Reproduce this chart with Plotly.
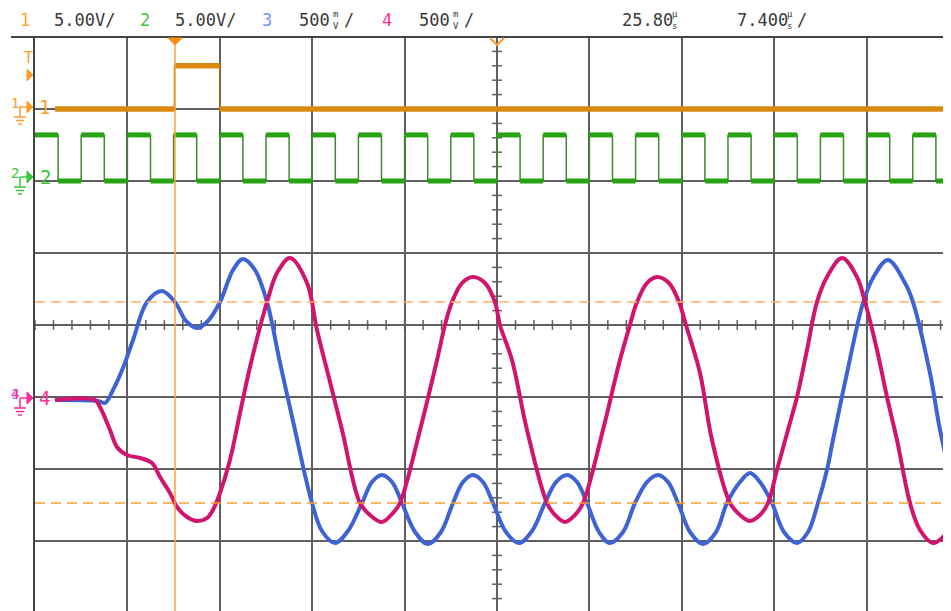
import plotly.graph_objects as go

# graticule in divisions (centre = 0); right edge and bottom sliver are off-screen
X_RANGE = [-5.0, 4.827]
Y_RANGE = [-3.972, 4.0]

# CH1 trigger pulse (orange), divisions
ch1_t = [-4.784, -3.49, -3.0]
ch1_v = [3.0, 3.6, 3.0]

# CH2 clock (green): edge times, alternating high/low starting high
ch2_t = [-5.0, -4.75, -4.5, -4.25, -4.0, -3.75, -3.5, -3.25, -3.0, -2.75,
         -2.5, -2.25, -2.0, -1.75, -1.5, -1.25, -1.0, -0.75, -0.5, -0.25,
         0.0, 0.25, 0.5, 0.75, 1.0, 1.25, 1.5, 1.75, 2.0, 2.25,
         2.5, 2.75, 3.0, 3.25, 3.5, 3.75, 4.0, 4.25, 4.5, 4.75]
ch2_high = 2.64
ch2_low = 2.0
t_end = 4.95

# CH3 (blue)
ch3_t = [-4.784, -4.318, -4.242, -4.156, -4.048, -3.939, -3.788, -3.626, -3.485, -3.366,
         -3.247, -3.128, -2.998, -2.857, -2.749, -2.619, -2.489, -2.348, -2.186, -2.078,
         -2.002, -1.894, -1.753, -1.613, -1.461, -1.353, -1.245, -1.136, -1.028, -0.887,
         -0.747, -0.606, -0.476, -0.368, -0.260, -0.152, -0.043, 0.097, 0.238, 0.379,
         0.519, 0.639, 0.758, 0.866, 0.974, 1.104, 1.223, 1.364, 1.494, 1.623,
         1.742, 1.851, 1.959, 2.089, 2.229, 2.370, 2.489, 2.630, 2.738, 2.846,
         2.976, 3.106, 3.247, 3.366, 3.474, 3.571, 3.636, 3.788, 3.961, 4.069,
         4.232, 4.416, 4.502, 4.686, 4.795, 4.913]
ch3_v = [-1.042, -1.056, -1.083, -0.903, -0.597, -0.208, 0.319, 0.472, 0.319, 0.056,
         -0.042, 0.056, 0.319, 0.764, 0.917, 0.764, 0.319, -0.528, -1.458, -2.083,
         -2.472, -2.861, -3.028, -2.861, -2.472, -2.181, -2.083, -2.181, -2.472, -2.875,
         -3.042, -2.875, -2.472, -2.181, -2.083, -2.181, -2.472, -2.875, -3.028, -2.861,
         -2.472, -2.181, -2.083, -2.181, -2.472, -2.875, -3.028, -2.875, -2.472, -2.181,
         -2.083, -2.181, -2.472, -2.875, -3.042, -2.875, -2.472, -2.181, -2.056, -2.181,
         -2.472, -2.875, -3.028, -2.875, -2.472, -2.014, -1.597, -0.667, 0.306, 0.653,
         0.903, 0.583, 0.319, -0.667, -1.458, -2.125]

# CH4 (pink)
ch4_t = [-4.784, -4.351, -4.297, -4.188, -4.113, -4.004, -3.864, -3.734, -3.647, -3.539,
         -3.463, -3.355, -3.247, -3.139, -3.074, -2.998, -2.890, -2.781, -2.673, -2.489,
         -2.381, -2.240, -2.056, -1.948, -1.807, -1.677, -1.483, -1.374, -1.245, -1.126,
         -1.050, -0.833, -0.649, -0.563, -0.487, -0.379, -0.260, -0.130, -0.022, 0.032,
         0.162, 0.325, 0.541, 0.628, 0.736, 0.844, 0.931, 1.147, 1.331, 1.439,
         1.515, 1.623, 1.732, 1.861, 1.970, 2.045, 2.197, 2.327, 2.522, 2.630,
         2.738, 2.846, 2.933, 3.030, 3.149, 3.247, 3.355, 3.463, 3.571, 3.734,
         3.896, 3.983, 4.113, 4.221, 4.329, 4.470, 4.578, 4.719, 4.848, 4.913]
ch4_v = [-1.042, -1.042, -1.139, -1.458, -1.694, -1.806, -1.847, -1.917, -2.111, -2.333,
         -2.528, -2.667, -2.722, -2.681, -2.569, -2.333, -1.875, -1.222, -0.583, 0.319,
         0.722, 0.931, 0.583, -0.069, -0.792, -1.458, -2.472, -2.639, -2.736, -2.611,
         -2.472, -1.458, -0.486, 0.0, 0.319, 0.583, 0.667, 0.583, 0.319, 0.0,
         -0.486, -1.458, -2.472, -2.639, -2.736, -2.639, -2.472, -1.458, -0.486, 0.0,
         0.319, 0.583, 0.667, 0.583, 0.319, 0.0, -0.667, -1.597, -2.472, -2.639,
         -2.722, -2.639, -2.472, -2.014, -1.458, -1.0, -0.347, 0.319, 0.667, 0.931,
         0.667, 0.319, -0.347, -1.0, -1.597, -2.472, -2.847, -3.028, -2.917, -2.778]

# cursors
cursor_t = -3.485
cursor_v = [0.319, -2.472]

# header readout
header = [("1", "#FFA43A"), ("5.00V/", "#3a3a3a"), ("2", "#45C445"), ("5.00V/", "#3a3a3a"),
          ("3", "#7590FF"), ("500", "#3a3a3a"), ("4", "#FF2D96"), ("500", "#3a3a3a"),
          ("25.80", "#3a3a3a"), ("7.400", "#3a3a3a")]
header_x = [18, 52, 138, 173, 260, 297, 380, 417, 620, 735]

# the page body has an 8px margin; coordinates below are window pixels,
# the visible page ends at x=943
PAGE = 8
W, H, L, T = 943, 611, 35, 37
ORANGE = "#FF9C2A"
GREEN = "#3CC43C"
PINK = "#FF2D96"
BLUE = "#7590FF"
GRID = "#5f5f5f"
MONO = "DejaVu Sans Mono, Liberation Mono, monospace"


def px(x):
    return (x - L) / (W - L)


def py(y):
    return (H - y) / (H - T)


def bands(t, v, end):
    xs, ys = [], []
    for a, b, lvl in zip(t, t[1:] + [end], v):
        xs += [a, b, None]
        ys += [lvl, lvl, None]
    return xs, ys


ch2_v = [ch2_high if i % 2 == 0 else ch2_low for i in range(len(ch2_t))]

fig = go.Figure()

# minor ticks on the centre axes
minor_x = [i / 5 for i in range(-25, 25)]
minor_y = [i / 5 for i in range(-20, 20)]
fig.add_trace(go.Scatter(x=minor_x, y=[0] * len(minor_x), mode="markers",
                         marker=dict(symbol="line-ns", size=7, line=dict(width=1.5, color=GRID))))
fig.add_trace(go.Scatter(x=[0] * len(minor_y), y=minor_y, mode="markers",
                         marker=dict(symbol="line-ew", size=7, line=dict(width=1.5, color=GRID))))

# CH1
fig.add_trace(go.Scatter(x=ch1_t + [t_end], y=ch1_v + [ch1_v[-1]], mode="lines",
                         line=dict(shape="hv", width=1.5, color="#9C6A1E")))
bx, by = bands(ch1_t, ch1_v, t_end)
fig.add_trace(go.Scatter(x=bx, y=by, mode="lines", line=dict(width=5.5, color="#DA8A10")))

# CH2
fig.add_trace(go.Scatter(x=ch2_t + [t_end], y=ch2_v + [ch2_v[-1]], mode="lines",
                         line=dict(shape="hv", width=1.5, color="#3D8B2E")))
bx, by = bands(ch2_t, ch2_v, t_end)
fig.add_trace(go.Scatter(x=bx, y=by, mode="lines", line=dict(width=5, color="#26A311")))

# CH3 / CH4
fig.add_trace(go.Scatter(x=ch3_t, y=ch3_v, mode="lines",
                         line=dict(shape="spline", width=4, color="#3F63D5")))
fig.add_trace(go.Scatter(x=ch4_t, y=ch4_v, mode="lines",
                         line=dict(shape="spline", width=4, color="#D1146E")))

shapes = []


def seg(x0, y0, x1, y1, color, width=1.5):
    shapes.append(dict(type="line", xref="paper", yref="paper", x0=px(x0), y0=py(y0),
                       x1=px(x1), y1=py(y1), line=dict(color=color, width=width)))


def tri(points, color, fill=True):
    d = "M " + " L ".join(f"{px(a):.5f},{py(b):.5f}" for a, b in points)
    if fill:
        d += " Z"
    shapes.append(dict(type="path", xref="paper", yref="paper", path=d,
                       fillcolor=color if fill else "rgba(0,0,0,0)",
                       line=dict(color=color, width=1 if fill else 2)))


# header separator
seg(11, 37, 943, 37, "#444444", 2)

# cursors
shapes.append(dict(type="line", xref="x", yref="paper", x0=cursor_t, x1=cursor_t,
                   y0=0, y1=py(44), line=dict(color="#F8A23C", width=1.5), layer="above"))
shapes.append(dict(type="line", xref="paper", yref="y", x0=0, x1=1, y0=cursor_v[0], y1=cursor_v[0],
                   line=dict(color="#FDB466", width=1.5, dash="10px,6px"), layer="above"))
shapes.append(dict(type="line", xref="paper", yref="y", x0=0, x1=1, y0=cursor_v[1], y1=cursor_v[1],
                   line=dict(color="#F5A034", width=1.5, dash="10px,6px"), layer="above"))

# trigger position / delay markers
tri([(168, 38), (182, 38), (175, 45)], "#FF8C10")
tri([(490, 38), (497, 45), (504, 38)], "#FF9C2A", fill=False)
# trigger level marker
tri([(27, 69), (33, 75), (27, 81)], ORANGE)

annotations = []


def ann(text, x, y, color, size=17, xanchor="left"):
    annotations.append(dict(text=text, x=px(x), y=py(y), xref="paper", yref="paper",
                            xanchor=xanchor, yanchor="middle", showarrow=False,
                            font=dict(family=MONO, size=size, color=color)))


def ground_marker(yc, color):
    seg(20, yc, 27, yc, color)
    seg(20, yc, 20, yc + 10, color)
    seg(14, yc + 10, 26, yc + 10, color)
    seg(16, yc + 13.5, 24, yc + 13.5, color)
    seg(18, yc + 17, 22, yc + 17, color)
    tri([(27, yc - 6), (33, yc), (27, yc + 6)], color)


ground_marker(107, ORANGE)
ann("1", 15, 103, ORANGE, 14, "center")
ann("1", 44.5, 107, ORANGE, 19, "center")
ground_marker(177, GREEN)
ann("2", 15, 173, GREEN, 14, "center")
ann("2", 45, 177, GREEN, 19, "center")
ground_marker(398, PINK)
ann("3", 15, 394, BLUE, 14, "center")
ann("4", 15, 394, PINK, 14, "center")
ann("4", 44.5, 398, PINK, 19, "center")
ann("T", 28, 58, ORANGE, 15, "center")

for (txt, col), x in zip(header, header_x):
    ann(txt, x, 20, col)
# stacked units
ann("m<br>V", 336, 20, "#3a3a3a", 9, "center")
ann("/", 342, 20, "#3a3a3a")
ann("m<br>V", 456, 20, "#3a3a3a", 9, "center")
ann("/", 462, 20, "#3a3a3a")
ann("µ<br>s", 675, 20, "#3a3a3a", 9, "center")
ann("µ<br>s", 790, 20, "#3a3a3a", 9, "center")
ann("/", 795, 20, "#3a3a3a")

axis = dict(showgrid=True, gridcolor=GRID, gridwidth=1.6, dtick=1, tick0=0,
            zeroline=True, zerolinecolor=GRID, zerolinewidth=1.6,
            showticklabels=False, ticks="", fixedrange=True)

fig.update_layout(
    width=W - PAGE, height=H - PAGE,
    margin=dict(l=L - PAGE, r=0, t=T - PAGE, b=0, pad=0, autoexpand=False),
    paper_bgcolor="white", plot_bgcolor="white",
    showlegend=False, hovermode=False,
    xaxis=dict(range=X_RANGE, **axis),
    yaxis=dict(range=Y_RANGE, showline=True, linecolor="#444444", linewidth=2, **axis),
    shapes=shapes, annotations=annotations,
)

fig.write_html("out.html")
